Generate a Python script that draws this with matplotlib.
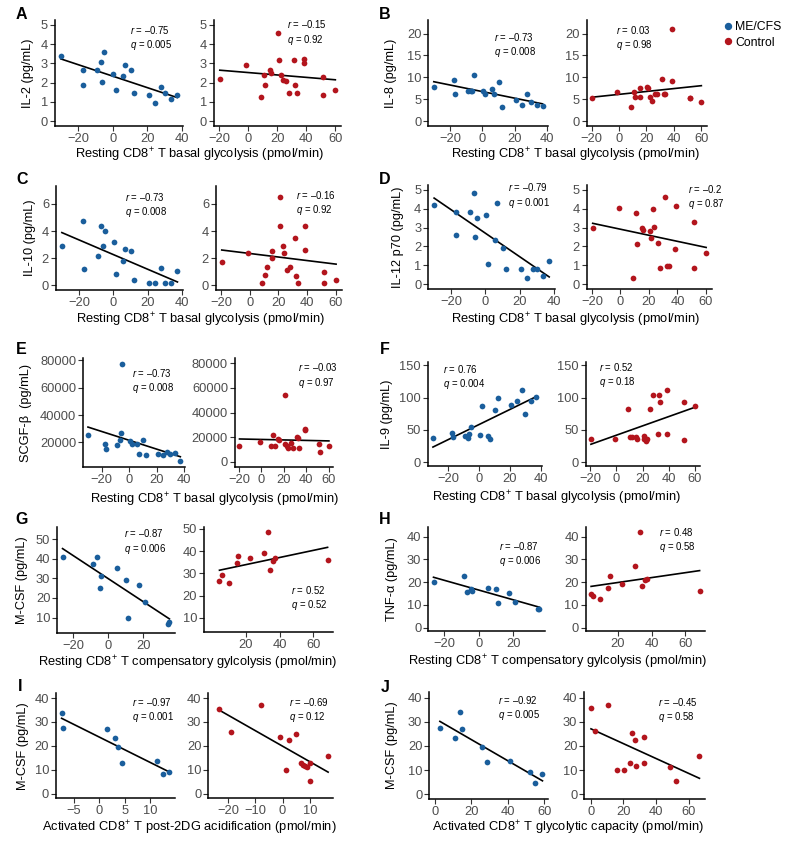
import numpy as np
import matplotlib
matplotlib.use("Agg")
import matplotlib.pyplot as plt
from matplotlib.lines import Line2D

plt.rcParams['font.family'] = ['Liberation Sans', 'DejaVu Sans']
plt.rcParams['mathtext.fontset'] = 'custom'
plt.rcParams['mathtext.rm'] = 'Liberation Sans'
plt.rcParams['mathtext.it'] = 'Liberation Sans:italic'
plt.rcParams['mathtext.bf'] = 'Liberation Sans:bold'

# ---- data ----
# x values shared by panels A-F
me_basal_x = [-30, -17.5, -17, -9, -7, -6.3, -5, 0.3, 1.7, 5.7, 7, 10.4, 12, 20.8, 24.3, 27.8, 30, 33.6, 37.2]
ctrl_basal_x = [-19.5, -1.2, 8.7, 10.7, 11.8, 15.2, 15.6, 20.8, 21.2, 23.0, 23.8, 26.1, 27.9, 31.5, 32.5,
                33.7, 38.5, 38.8, 51.6, 51.9, 60.1]

il2_me = [3.36, 2.67, 1.9, 2.67, 3.05, 2.03, 3.57, 2.47, 1.64, 2.33, 2.91, 2.66, 1.47, 1.36, 0.95, 1.78, 1.48, 1.16, 1.38]
il2_ctrl = [2.20, 2.90, 1.27, 2.40, 1.89, 2.66, 2.52, 4.56, 3.16, 2.40, 2.14, 2.09, 1.48, 3.16, 1.89, 1.48,
            3.21, 3.04, 1.37, 2.28, 1.63]

il8_me = [7.7, 9.3, 6.2, 6.9, 6.9, 6.9, 10.6, 6.9, 6.3, 7.3, 6.3, 9.0, 3.3, 4.75, 3.7, 6.1, 4.3, 3.6, 3.4]
il8_ctrl = [5.3, 6.7, 3.3, 6.6, 5.5, 7.5, 5.5, 7.8, 7.6, 5.5, 4.5, 6.2, 6.2, 9.7, 6.3, 6.3, 21.0, 9.1, 5.4, 5.4, 4.4]

il10_me = [2.87, 4.73, 1.18, 2.16, 4.36, 2.87, 4.02, 3.21, 0.83, 1.76, 2.67, 2.5, 0.37, 0.17, 0.17, 1.27, 0.17, 0.17, 1.03]
il10_ctrl = [1.72, 2.38, 0.2, 0.78, 1.35, 2.5, 2.03, 6.54, 4.36, 2.87, 2.38, 1.1, 1.35, 3.5, 0.69, 0.17,
             4.36, 2.57, 0.98, 0.17, 0.42]

il12_me = [4.17, 3.82, 2.59, 3.82, 4.83, 2.5, 3.51, 3.66, 1.09, 2.33, 4.32, 1.93, 0.83, 0.83, 0.31, 0.83, 0.83, 0.43, 1.23]
il12_ctrl = [2.97, 4.04, 0.31, 3.79, 2.15, 2.97, 2.88, 2.82, 2.47, 3.96, 3.05, 2.18, 0.84, 4.62, 0.97, 0.97,
             1.84, 4.13, 3.31, 0.84, 1.64]

scgf_me = [25400, 18500, 15100, 18000, 21700, 27100, 77100, 21000, 18500, 18500, 11200, 21700, 10700, 11700,
           11000, 13200, 11500, 12000, 6300]
scgf_ctrl = [12900, 16400, 12600, 21400, 12600, 18600, 18000, 54500, 14200, 12900, 11000, 15100, 11000, 20000,
             19200, 11200, 26600, 26000, 14200, 7900, 12900]

il9_me = [37.0, 44.7, 38.5, 40.6, 38.0, 43.1, 53.9, 41.6, 86.3, 41.1, 36.0, 81.1, 99.1, 88.9, 95.0, 112.0, 74.5, 94.5, 100.2]
il9_ctrl = [36.0, 35.4, 82.7, 39.5, 39.5, 39.5, 36.5, 40.6, 36.0, 32.9, 36.5, 81.7, 103.7, 43.1, 104.3, 93.5,
            112.0, 44.2, 93.0, 34.4, 86.8]

# compensatory glycolysis (G, H)
me_comp_x = [-26, -8.7, -6.6, -4.6, -3.9, 5.3, 10, 11.2, 17.5, 20.8, 34.1, 35]
ctrl_comp_x = [4.2, 5.6, 9.7, 14.5, 15.3, 22.3, 30.5, 32.9, 34.5, 36.3, 37.4, 68.5]
mcsf_g_me = [41.0, 37.5, 41.0, 24.9, 31.2, 35.1, 29.2, 10.0, 26.6, 18.1, 6.9, 7.8]
mcsf_g_ctrl = [26.5, 29.1, 25.8, 34.8, 37.8, 36.7, 39.0, 48.7, 31.5, 35.7, 37.0, 36.0]
tnfa_me = [20.1, 22.9, 15.6, 17.2, 16.3, 17.5, 17.0, 10.8, 15.3, 11.2, 8.3, 8.0]
tnfa_ctrl = [14.6, 13.8, 12.8, 17.4, 22.6, 19.0, 27.0, 41.9, 18.3, 20.9, 21.6, 15.9]

# post-2DG acidification (I)
me_post2dg_x = [-7.4, -7.2, 1.5, 3.0, 3.7, 4.4, 11.3, 12.5, 13.7]
mcsf_i_me = [33.8, 27.3, 27.0, 23.3, 19.4, 13.0, 13.5, 8.3, 9.2]
ctrl_post2dg_x = [-23.2, -18.7, -8.0, -1.0, 1.1, 2.4, 5.1, 6.8, 7.6, 8.3, 8.8, 10.0, 10.0, 16.7]
mcsf_i_ctrl = [35.3, 25.7, 37.0, 23.6, 9.8, 22.5, 25.1, 13.0, 11.9, 11.6, 11.2, 13.0, 5.4, 15.9]

# glycolytic capacity (J)
me_glycap_x = [2.7, 11.2, 13.7, 14.6, 26.0, 28.5, 41.1, 51.9, 54.8, 59.0]
mcsf_j_me = [27.5, 23.5, 33.9, 27.1, 19.6, 13.2, 13.75, 9.3, 4.7, 8.3]
ctrl_glycap_x = [0.2, 2.7, 10.4, 16.2, 20.2, 24.1, 25.2, 27.4, 27.6, 32.5, 32.5, 48.9, 52.4, 66.7]
mcsf_j_ctrl = [35.6, 26.1, 37.1, 9.9, 10.0, 13.0, 25.3, 22.5, 11.7, 23.9, 13.0, 11.4, 5.4, 15.9]

# r / q labels (ME/CFS, Control) per panel
r_me = ['–0.75', '–0.73', '–0.73', '–0.79', '–0.73', '0.76', '–0.87', '–0.87', '–0.97', '–0.92']
q_me = ['0.005', '0.008', '0.008', '0.001', '0.008', '0.004', '0.006', '0.006', '0.001', '0.005']
r_ctrl = ['–0.15', '0.03', '–0.16', '–0.2', '–0.03', '0.52', '0.52', '0.48', '–0.69', '–0.45']
q_ctrl = ['0.92', '0.98', '0.92', '0.87', '0.97', '0.18', '0.52', '0.58', '0.12', '0.58']

xlab_basal = 'Resting CD8$^{+}$ T basal glycolysis (pmol/min)'
xlab_comp = 'Resting CD8$^{+}$ T compensatory gylcolysis (pmol/min)'
xlab_2dg = 'Activated CD8$^{+}$ T post-2DG acidification (pmol/min)'
xlab_cap = 'Activated CD8$^{+}$ T glycolytic capacity (pmol/min)'

BLUE = '#1a5e9c'
RED = '#b3151d'
W, H = 789, 843

fig = plt.figure(figsize=(W / 100, H / 100), dpi=100)


def add_ax(box):
    x0, y0, x1, y1 = box
    return fig.add_axes([x0 / W, 1 - y1 / H, (x1 - x0) / W, (y1 - y0) / H])


def scatter_fit(box, x, y, col, xlim, ylim, xt, yt):
    ax = add_ax(box)
    x = np.asarray(x, float)
    y = np.asarray(y, float)
    ax.scatter(x, y, s=17, color=col, linewidths=0, zorder=3)
    k, b = np.polyfit(x, y, 1)
    xs = np.array([x.min(), x.max()])
    ax.plot(xs, k * xs + b, color='black', lw=1.2, zorder=2)
    ax.set_xlim(xlim)
    ax.set_ylim(ylim)
    ax.set_xticks(xt)
    ax.set_yticks(yt)
    for s in ['top', 'right']:
        ax.spines[s].set_visible(False)
    for s in ['left', 'bottom']:
        ax.spines[s].set_linewidth(1.1)
    ax.tick_params(length=3.5, width=0.8, color='#333333', labelcolor='#4d4d4d',
                   labelsize=9.3, pad=1.5)
    ax.patch.set_alpha(0)
    return ax


def ftext(x, y, s, **kw):
    fig.text(x / W, 1 - y / H, s, **kw)


def stats(x, y1, y2, r, q):
    # two lines in one text block
    ftext(x, (y1 + y2) / 2, '$r$ = ' + r + '\n$q$ = ' + q, fontsize=6.9,
          va='center', ha='left', linespacing=1.25)


def pair(i, letter, letter_xy, boxL, boxR, data, xlims, ylims, xts, yts, ylab, ylab_x,
         xlab, xlab_xy, sL, sR):
    scatter_fit(boxL, data[0], data[1], BLUE, xlims[0], ylims[0], xts[0], yts[0])
    scatter_fit(boxR, data[2], data[3], RED, xlims[1], ylims[1], xts[1], yts[1])
    ftext(letter_xy[0], letter_xy[1], letter, fontsize=11.5, fontweight='bold', ha='center', va='center')
    ftext(ylab_x, (boxL[1] + boxL[3]) / 2, ylab, fontsize=9.2, rotation=90, ha='center', va='center')
    ftext(xlab_xy[0], xlab_xy[1], xlab, fontsize=9.3, ha='center', va='center')
    stats(sL[0], sL[1], sL[2], r_me[i], q_me[i])
    stats(sR[0], sR[1], sR[2], r_ctrl[i], q_ctrl[i])


xl_basal = [(-33.4, 40.6), (-23.5, 64)]
xt_basal = [[-20, 0, 20, 40], [-20, 0, 20, 40, 60]]

pair(0, 'A', (21.7, 14.7), (55, 20, 183, 126), (214, 20, 341, 126),
     (me_basal_x, il2_me, ctrl_basal_x, il2_ctrl), xl_basal, [(-0.25, 5.25)] * 2,
     xt_basal, [range(6)] * 2, 'IL-2 (pg/mL)', 28, xlab_basal, (199.5, 155),
     (130, 32.3, 43.3), (287.3, 26.7, 38.3))

pair(1, 'B', (385, 14.7), (428.3, 20, 548, 126), (586.7, 20, 706.7, 126),
     (me_basal_x, il8_me, ctrl_basal_x, il8_ctrl), xl_basal, [(-1.1, 23.1)] * 2,
     xt_basal, [[0, 5, 10, 15, 20]] * 2, 'IL-8 (pg/mL)', 391, xlab_basal, (575, 155),
     (494, 39.3, 51), (616, 32.3, 43.6))

pair(2, 'C', (21.7, 179.7), (56, 185.7, 183.3, 290), (216, 185.7, 341.7, 290),
     (me_basal_x, il10_me, ctrl_basal_x, il10_ctrl), xl_basal, [(-0.35, 7.35)] * 2,
     xt_basal, [[0, 2, 4, 6]] * 2, 'IL-10 (pg/mL)', 30, xlab_basal, (200, 320),
     (125, 199.3, 211), (296, 197.3, 209))

pair(3, 'D', (385, 180), (428.3, 185, 555, 289), (587, 185, 711.7, 289),
     (me_basal_x, il12_me, ctrl_basal_x, il12_ctrl), xl_basal, [(-0.25, 5.25)] * 2,
     xt_basal, [range(6)] * 2, 'IL-12 p70 (pg/mL)', 398, xlab_basal, (575, 320),
     (508.3, 190, 200.7), (688.3, 191.7, 202.7))

pair(4, 'E', (21.7, 350), (83.3, 358.3, 185, 466.7), (235, 358.3, 333.3, 466.7),
     (me_basal_x, scgf_me, ctrl_basal_x, scgf_ctrl), xl_basal, [(2200, 81500), (-4100, 84100)],
     xt_basal, [[20000, 40000, 60000, 80000], [0, 20000, 40000, 60000, 80000]],
     'SCGF-β  (pg/mL)', 26, xlab_basal, (214, 500),
     (131.7, 375.7, 386.7), (298.3, 370, 381))

pair(5, 'F', (385, 350), (427.7, 361.7, 541.7, 466), (585.7, 361.7, 700, 466),
     (me_basal_x, il9_me, ctrl_basal_x, il9_ctrl), xl_basal, [(-6, 155.5)] * 2,
     xt_basal, [[0, 50, 100, 150]] * 2, 'IL-9 (pg/mL)', 387, xlab_basal, (556, 498),
     (443.3, 371.7, 382.7), (599, 369.3, 381))

pair(6, 'G', (22, 520), (57.3, 526.7, 175, 633.3), (204, 526.7, 333.3, 631.7),
     (me_comp_x, mcsf_g_me, ctrl_comp_x, mcsf_g_ctrl), [(-29, 38.2), (-5, 71.9)],
     [(2.0, 56.3), (3.7, 51.0)], [[-20, 0, 20], [20, 40, 60]],
     [[10, 20, 30, 40, 50]] * 2, 'M-CSF (pg/mL)', 21.7, xlab_comp, (187, 663),
     (124, 535.7, 547), (290.7, 592.3, 604))

pair(7, 'H', (385, 520), (428.3, 526.7, 545, 631), (585.7, 526.7, 705, 631),
     (me_comp_x, tnfa_me, ctrl_comp_x, tnfa_ctrl), [(-29, 38.2), (1.0, 71.7)],
     [(-1.5, 44.4)] * 2, [[-20, 0, 20], [20, 40, 60]],
     [[0, 10, 20, 30, 40]] * 2, 'TNF-α (pg/mL)', 392, xlab_comp, (557.5, 662),
     (499, 548.3, 560), (659.3, 534, 545.7))

pair(8, 'I', (20, 686.7), (56, 693.3, 175, 798.3), (208.3, 693.3, 333.3, 798.3),
     (me_post2dg_x, mcsf_i_me, ctrl_post2dg_x, mcsf_i_ctrl), [(-8.5, 14.8), (-27.2, 18.6)],
     [(-2, 42)] * 2, [[-5, 0, 5, 10], [-20, -10, 0, 10]],
     [[0, 10, 20, 30, 40]] * 2, 'M-CSF (pg/mL)', 23.3, xlab_2dg, (189, 828),
     (131.7, 704, 715.7), (289.3, 704, 715.7))

pair(9, 'J', (385, 687), (429.3, 691.7, 548.3, 799), (584.3, 691.7, 705, 799),
     (me_glycap_x, mcsf_j_me, ctrl_glycap_x, mcsf_j_ctrl), [(-3.1, 62.2), (-3.9, 70.1)],
     [(-2, 42.5)] * 2, [[0, 20, 40, 60], [0, 20, 40, 60]],
     [[0, 10, 20, 30, 40]] * 2, 'M-CSF (pg/mL)', 392, xlab_cap, (568, 828),
     (498.3, 701.7, 714), (658.3, 704, 715.7))

# legend
handles = [Line2D([], [], marker='o', ls='', color=BLUE, markersize=4.3, label='ME/CFS'),
           Line2D([], [], marker='o', ls='', color=RED, markersize=4.3, label='Control')]
fig.legend(handles=handles, loc='upper left', bbox_to_anchor=(722 / W, 1 - 21 / H),
           frameon=False, fontsize=8.8, handletextpad=0.1, labelspacing=0.3,
           borderaxespad=0, borderpad=0, handlelength=1.0)

fig.savefig('out.png', dpi=100)
